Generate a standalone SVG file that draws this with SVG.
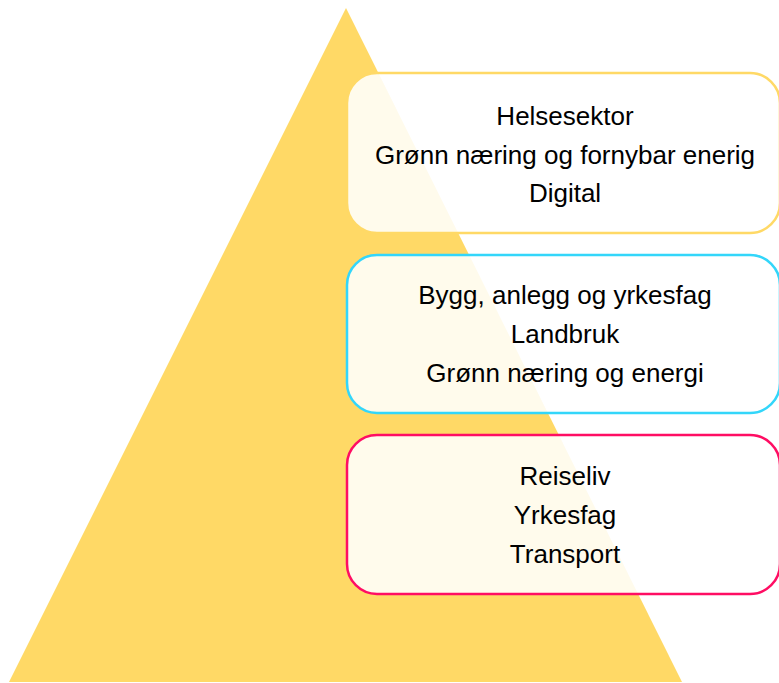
<svg xmlns="http://www.w3.org/2000/svg" width="779" height="683" viewBox="0 0 779 683">
<style>
.box{fill:#ffffff;fill-opacity:0.88;stroke-width:2.5}
.t{font-family:"Liberation Sans",Arial,sans-serif;font-size:26px;fill:#000;text-anchor:middle}
</style>
<rect width="779" height="683" fill="#ffffff"/>
<g id="pyramid"><polygon points="346,8 682,682 9,682" fill="#FFD966"/></g>
<g id="box1">
<rect class="box" x="347" y="73" width="433" height="160" rx="30" stroke="#FFD966"/>
<text class="t" x="565" y="125">Helsesektor</text>
<text class="t" x="565" y="164">Grønn næring og fornybar enerig</text>
<text class="t" x="565" y="202">Digital</text>
</g>
<g id="box2">
<rect class="box" x="347" y="255" width="433" height="158" rx="30" stroke="#33D6FA"/>
<text class="t" x="565" y="304">Bygg, anlegg og yrkesfag</text>
<text class="t" x="565" y="343">Landbruk</text>
<text class="t" x="565" y="382">Grønn næring og energi</text>
</g>
<g id="box3">
<rect class="box" x="347" y="435" width="433" height="159" rx="30" stroke="#FF0D63"/>
<text class="t" x="565" y="485">Reiseliv</text>
<text class="t" x="565" y="524">Yrkesfag</text>
<text class="t" x="565" y="563">Transport</text>
</g>
<g id="connectors"></g>
</svg>
